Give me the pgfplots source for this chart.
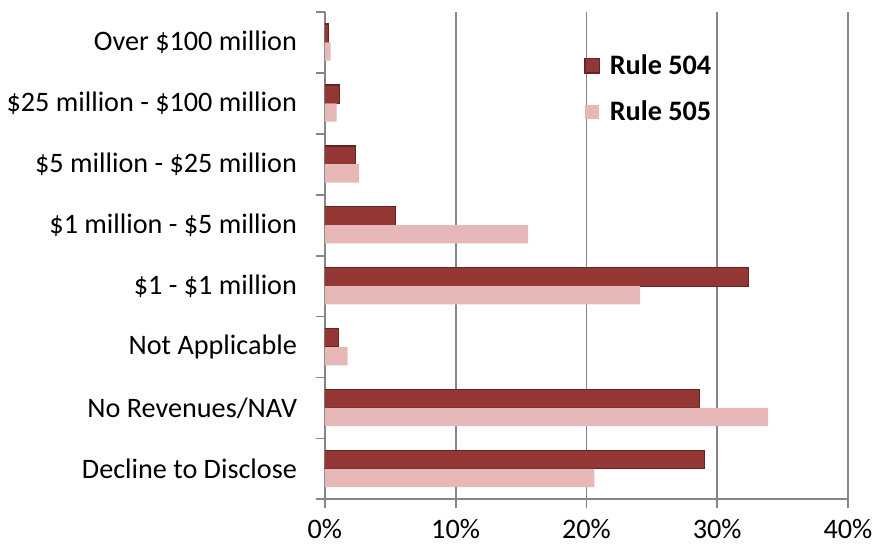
\documentclass[border=0pt]{standalone}
\usepackage{fontspec}
\setmainfont{Carlito}
\usepackage{pgfplots}
\pgfplotsset{compat=1.18}
\usetikzlibrary{calc}
\definecolor{rdark}{HTML}{943634}
\definecolor{rdarkedge}{HTML}{632523}
\definecolor{rlight}{HTML}{E6B9B8}
\definecolor{gridgray}{HTML}{868686}

\begin{document}
\begin{tikzpicture}
\begin{axis}[
  name=main,
  scale only axis,
  width=263.5pt, height=245.5pt,
  xbar, bar width=0.3,
  xmin=0, xmax=40,
  ymin=-0.5, ymax=7.5,
  axis x line*=bottom, axis y line*=left,
  axis line style={gridgray, line width=0.9pt},
  xtick={0,10,20,30,40},
  xticklabels={0\%,10\%,20\%,30\%,40\%},
  ytick={-0.5,0.5,...,7.5},
  y tick label as interval,
  yticklabels={Decline to Disclose, No Revenues/NAV, Not Applicable,
    \$1 - \$1 million, \$1 million - \$5 million, \$5 million - \$25 million,
    \$25 million - \$100 million, Over \$100 million},
  tick align=outside,
  major tick length=4.5pt,
  tick style={gridgray, line width=0.9pt},
  xmajorgrids, ymajorgrids=false,
  major grid style={gridgray, line width=0.9pt},
  ticklabel style={font=\fontsize{14.2}{16}\selectfont},
  yticklabel style={xshift=-6pt},
  xticklabel style={yshift=-2pt},
  legend style={at={(0.484,0.93)}, anchor=north west, draw=none, fill=none,
    font=\fontsize{14.2}{16}\selectfont\bfseries, row sep=8pt},
  legend cell align=left,
]
% Rule 504
\addplot[fill=rdark, draw=rdarkedge, line width=0.6pt, bar shift=0.15,
  legend image code/.code={\path[draw=none, fill=none] (0pt,0pt) rectangle (10.5pt,0pt);
    \draw[fill=rdark, draw=rdarkedge, line width=0.6pt] (0pt,-3.6pt) rectangle (7.2pt,3.6pt);}]
  coordinates {(29.0,0) (28.65,1) (1.05,2) (32.4,3) (5.4,4) (2.35,5) (1.1,6) (0.3,7)};
% Rule 505
\addplot[fill=rlight, draw=none, bar shift=-0.15,
  legend image code/.code={\path[draw=none, fill=none] (0pt,0pt) rectangle (10.5pt,0pt);
    \fill[rlight] (0pt,-3.6pt) rectangle (7.2pt,3.6pt);}]
  coordinates {(20.6,0) (33.9,1) (1.75,2) (24.1,3) (15.55,4) (2.6,5) (0.9,6) (0.45,7)};
\legend{Rule 504, Rule 505}
\end{axis}
\path (main.south west) ++(-163pt,-26pt) rectangle ($(main.north east)+(13pt,6pt)$);
\end{tikzpicture}
\end{document}
